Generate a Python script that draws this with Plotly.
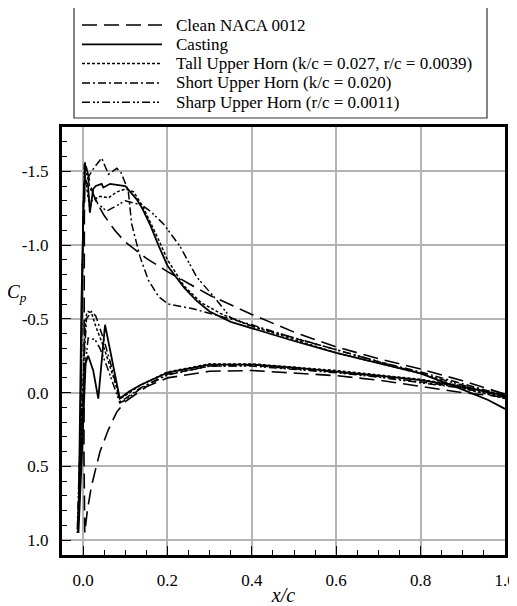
import plotly.graph_objects as go

# ---------------- data (x/c, Cp) ----------------
series_names = [
    "Clean NACA 0012",
    "Casting",
    "Tall Upper Horn (k/c = 0.027, r/c = 0.0039)",
    "Short Upper Horn (k/c = 0.020)",
    "Sharp Upper Horn (r/c = 0.0011)",
]

# Clean NACA 0012
clean_xu = [1.0, 0.9, 0.8, 0.7, 0.6, 0.5, 0.4, 0.3, 0.25, 0.2, 0.15, 0.1, 0.075, 0.05, 0.03, 0.02, 0.01, 0.005, 0.003]
clean_cpu = [0.01, -0.08, -0.16, -0.23, -0.31, -0.41, -0.53, -0.66, -0.74, -0.82, -0.91, -1.02, -1.1, -1.2, -1.3, -1.38, -1.5, -1.56, -1.2]
clean_xl = [0.002, 0.004, 0.01, 0.02, 0.04, 0.06, 0.08, 0.1, 0.15, 0.2, 0.3, 0.4, 0.5, 0.6, 0.7, 0.8, 0.9, 1.0]
clean_cpl = [0.4, 0.95, 0.8, 0.63, 0.4, 0.25, 0.13, 0.06, -0.04, -0.1, -0.145, -0.15, -0.135, -0.115, -0.085, -0.045, 0.0, 0.03]

# Casting
cast_xu = [1.0, 0.96, 0.9, 0.8, 0.7, 0.6, 0.5, 0.4, 0.35, 0.3, 0.27, 0.24, 0.2, 0.18, 0.16, 0.14, 0.127, 0.1, 0.08, 0.064, 0.048, 0.044, 0.03, 0.024, 0.016, 0.012, 0.006, 0.002, -0.004, -0.008]
cast_cpu = [0.11, 0.05, -0.02, -0.13, -0.2, -0.27, -0.35, -0.44, -0.48, -0.55, -0.62, -0.71, -0.86, -0.99, -1.13, -1.25, -1.31, -1.40, -1.41, -1.415, -1.39, -1.415, -1.40, -1.38, -1.22, -1.40, -1.44, -1.38, -0.6, 0.4]
cast_xl = [-0.011, -0.004, 0.006, 0.012, 0.024, 0.036, 0.052, 0.087, 0.11, 0.135, 0.2, 0.3, 0.4, 0.5, 0.6, 0.7, 0.8, 0.9, 1.0]
cast_cpl = [0.95, 0.5, -0.2, -0.25, -0.15, 0.04, -0.46, 0.04, -0.01, -0.05, -0.135, -0.19, -0.19, -0.17, -0.145, -0.115, -0.085, -0.04, 0.02]

# Tall upper horn
tall_xu = [1.0, 0.9, 0.8, 0.7, 0.6, 0.5, 0.4, 0.33, 0.28, 0.24, 0.2, 0.18, 0.16, 0.14, 0.12, 0.1, 0.08, 0.06, 0.04, 0.02, 0.016, 0.01, 0.004, 0.0, -0.006]
tall_cpu = [0.04, -0.03, -0.13, -0.2, -0.27, -0.36, -0.45, -0.53, -0.61, -0.72, -0.9, -1.03, -1.15, -1.27, -1.36, -1.38, -1.36, -1.32, -1.33, -1.30, -1.25, -1.35, -1.47, -1.2, 0.2]
tall_xl = [-0.012, -0.004, 0.004, 0.008, 0.012, 0.02, 0.03, 0.05, 0.07, 0.088, 0.1, 0.135, 0.2, 0.3, 0.4, 0.5, 0.6, 0.7, 0.8, 0.9, 1.0]
tall_cpl = [0.93, 0.3, -0.4, -0.53, -0.55, -0.54, -0.45, -0.3, -0.12, 0.04, 0.02, -0.05, -0.14, -0.195, -0.195, -0.175, -0.15, -0.12, -0.09, -0.045, 0.015]

# Short upper horn
short_xu = [1.0, 0.9, 0.8, 0.7, 0.6, 0.5, 0.4, 0.35, 0.286, 0.258, 0.202, 0.179, 0.155, 0.135, 0.115, 0.107, 0.09, 0.08, 0.06, 0.044, 0.025, 0.01, 0.004, 0.0, -0.006]
short_cpu = [0.02, -0.06, -0.14, -0.21, -0.29, -0.37, -0.46, -0.5, -0.55, -0.57, -0.60, -0.65, -0.76, -0.92, -1.145, -1.37, -1.49, -1.52, -1.48, -1.59, -1.52, -1.45, -1.57, -1.2, 0.3]
short_xl = [-0.013, -0.006, 0.002, 0.008, 0.02, 0.03, 0.05, 0.07, 0.087, 0.1, 0.135, 0.2, 0.3, 0.4, 0.5, 0.6, 0.7, 0.8, 0.9, 1.0]
short_cpl = [0.95, 0.5, -0.2, -0.5, -0.55, -0.52, -0.35, -0.15, 0.06, 0.04, -0.03, -0.125, -0.18, -0.185, -0.165, -0.14, -0.11, -0.075, -0.035, 0.02]

# Sharp upper horn
sharp_xu = [1.0, 0.9, 0.8, 0.7, 0.6, 0.5, 0.39, 0.349, 0.31, 0.27, 0.23, 0.19, 0.159, 0.135, 0.127, 0.1, 0.08, 0.056, 0.035, 0.016, 0.008, 0.003, 0.0, -0.007]
sharp_cpu = [0.03, -0.05, -0.13, -0.21, -0.29, -0.37, -0.46, -0.51, -0.65, -0.78, -0.99, -1.145, -1.23, -1.28, -1.28, -1.30, -1.27, -1.23, -1.28, -1.39, -1.5, -1.55, -1.2, 0.3]
sharp_xl = [-0.014, -0.008, 0.002, 0.012, 0.028, 0.04, 0.06, 0.087, 0.1, 0.135, 0.2, 0.3, 0.4, 0.5, 0.6, 0.7, 0.8, 0.9, 1.0]
sharp_cpl = [0.95, 0.6, -0.1, -0.37, -0.36, -0.3, -0.15, 0.07, 0.05, -0.025, -0.12, -0.18, -0.18, -0.16, -0.135, -0.105, -0.07, -0.03, 0.025]

x_tick_vals = [0.0, 0.2, 0.4, 0.6, 0.8, 1.0]
x_tick_text = ["0.0", "0.2", "0.4", "0.6", "0.8", "1.0"]
y_tick_vals = [-1.5, -1.0, -0.5, 0.0, 0.5, 1.0]
y_tick_text = ["-1.5", "-1.0", "-0.5", "0.0", "0.5", "1.0"]

# ---------------- figure ----------------
# the page body has an 8px margin, so the figure is sized to fill the rest of the window
OFF = 8
W, H = 517 - OFF, 606 - OFF
ML, MR, MT, MB = 62 - OFF, 12, 127 - OFF, 51
PW, PH = W - ML - MR, H - MT - MB


def px_x(p):
    # window pixel -> paper x
    return (p - OFF - ML) / PW


def px_y(p):
    # window pixel -> paper y
    return (H - MB - (p - OFF)) / PH


styles = [
    ("15px,7px", 1.6),
    ("solid", 1.8),
    ("3px,2px", 1.5),
    ("8px,3px,2px,3px", 1.5),
    ("8px,3px,2px,2px,2px,3px", 1.5),
]
data = [
    (clean_xu, clean_cpu, clean_xl, clean_cpl),
    (cast_xu, cast_cpu, cast_xl, cast_cpl),
    (tall_xu, tall_cpu, tall_xl, tall_cpl),
    (short_xu, short_cpu, short_xl, short_cpl),
    (sharp_xu, sharp_cpu, sharp_xl, sharp_cpl),
]

font_family = "Liberation Serif"
fig = go.Figure()
for i, (name, (xu, cu, xl, cl), (dash, w)) in enumerate(zip(series_names, data, styles)):
    fig.add_trace(go.Scatter(
        x=list(xu) + list(xl), y=list(cu) + list(cl), mode="lines", name=name,
        line=dict(color="black", width=w, dash=dash), showlegend=False,
    ))
    # legend entry (sample line + text inside a framed box)
    row_y = 25 + 19.3 * i
    fig.add_shape(type="line", xref="paper", yref="paper",
                  x0=px_x(82), x1=px_x(162), y0=px_y(row_y), y1=px_y(row_y),
                  line=dict(color="black", width=w, dash=dash))
    fig.add_annotation(text=name, xref="paper", yref="paper",
                       x=px_x(174), y=px_y(row_y), xanchor="left", yanchor="middle",
                       showarrow=False, font=dict(family=font_family, size=17, color="black"))

fig.add_shape(type="rect", xref="paper", yref="paper",
              x0=px_x(74), x1=px_x(487), y0=px_y(118), y1=px_y(4),
              line=dict(color="#333333", width=1.2), fillcolor="rgba(0,0,0,0)")

axis_common = dict(
    showline=True, linecolor="black", linewidth=3, mirror=True,
    showgrid=True, gridcolor="#b4b4b4", gridwidth=1.5,
    ticks="inside", ticklen=9, tickwidth=1.2, tickcolor="black",
    tickfont=dict(family=font_family, size=17, color="black"),
    zeroline=False, automargin=False,
)

fig.update_xaxes(
    range=[-0.05, 1.0], tickvals=x_tick_vals, ticktext=x_tick_text, ticklabelstandoff=8,
    minor=dict(dtick=0.05, tick0=0, ticks="inside", ticklen=5, tickwidth=1.2, tickcolor="black", showgrid=False),
    title=dict(text="<i>x/c</i>", font=dict(family=font_family, size=20, color="black"), standoff=2),
    **axis_common,
)
fig.update_yaxes(
    range=[1.1, -1.8], tickvals=y_tick_vals, ticktext=y_tick_text, ticklabelstandoff=7,
    minor=dict(dtick=0.1, tick0=0, ticks="inside", ticklen=5, tickwidth=1.2, tickcolor="black", showgrid=False),
    **axis_common,
)

fig.add_annotation(
    text="<i>C<sub>p</sub></i>", xref="paper", yref="paper", x=px_x(29), y=px_y(293),
    xanchor="right", yanchor="middle", showarrow=False,
    font=dict(family=font_family, size=19, color="black"),
)

fig.update_layout(
    width=W, height=H, autosize=False,
    margin=dict(l=ML, r=MR, t=MT, b=MB, autoexpand=False),
    paper_bgcolor="white", plot_bgcolor="white",
    font=dict(family=font_family, color="black"),
    showlegend=False,
)

fig.write_html("out.html")
